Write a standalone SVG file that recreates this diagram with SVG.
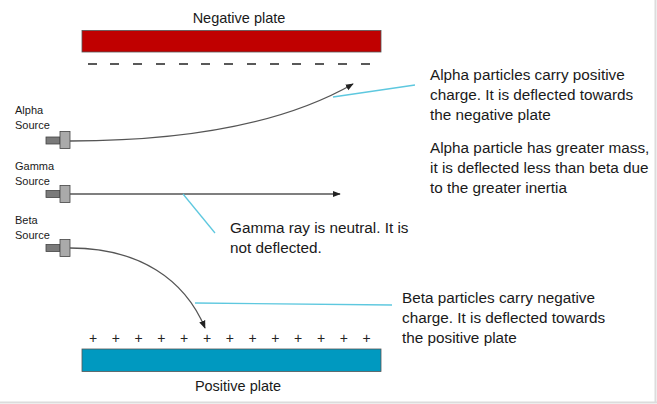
<svg xmlns="http://www.w3.org/2000/svg" width="657" height="404" viewBox="0 0 657 404">
<defs>
<style>
.t{font-family:"Liberation Sans",Arial,sans-serif;fill:#1a1a1a}
.body{font-size:15.3px}
.plate{font-size:14.5px}
.src{font-size:11px}
.ray{fill:none;stroke:#555;stroke-width:1.3}
.call{fill:none;stroke:#5ec8df;stroke-width:1.3}
.sign{font-family:"Liberation Sans",Arial,sans-serif;font-size:14px;fill:#222}
.dev1{fill:#7a7a7a;stroke:#444;stroke-width:0.8}
.dev2{fill:#aaaaaa;stroke:#444;stroke-width:0.8}
</style>
<marker id="ah" viewBox="0 0 10 10" refX="9" refY="5" markerWidth="8" markerHeight="8" markerUnits="userSpaceOnUse" orient="auto">
<path d="M0,1 L10,5 L0,9 z" fill="#222"/>
</marker>
</defs>
<rect width="657" height="404" fill="#fff"/>
<line x1="655.5" y1="0" x2="655.5" y2="403" stroke="#dcdcdc" stroke-width="2"/>
<line x1="0" y1="402.5" x2="657" y2="402.5" stroke="#dcdcdc" stroke-width="2"/>

<g id="negative-plate">
<rect x="82" y="30.5" width="299" height="21.5" fill="#c00000" stroke="#555" stroke-width="0.8"/>
<text class="t plate" x="239" y="23" text-anchor="middle">Negative plate</text>
<g stroke="#222" stroke-width="1.5">
<line x1="88" y1="64" x2="97" y2="64"/><line x1="110" y1="64" x2="119" y2="64"/><line x1="133" y1="64" x2="142" y2="64"/><line x1="156" y1="64" x2="165" y2="64"/><line x1="179" y1="64" x2="188" y2="64"/><line x1="201" y1="64" x2="210" y2="64"/><line x1="224" y1="64" x2="233" y2="64"/><line x1="247" y1="64" x2="256" y2="64"/><line x1="270" y1="64" x2="279" y2="64"/><line x1="292" y1="64" x2="301" y2="64"/><line x1="315" y1="64" x2="324" y2="64"/><line x1="338" y1="64" x2="347" y2="64"/><line x1="361" y1="64" x2="370" y2="64"/>
</g>
</g>

<g id="positive-plate">
<rect x="82" y="349" width="299" height="22.5" fill="#0099c0" stroke="#555" stroke-width="0.8"/>
<text class="t plate" x="238" y="391" text-anchor="middle">Positive plate</text>
<g class="sign" text-anchor="middle">
<text x="93" y="343">+</text><text x="115.8" y="343">+</text><text x="138.6" y="343">+</text><text x="161.4" y="343">+</text><text x="184.2" y="343">+</text><text x="207" y="343">+</text><text x="229.8" y="343">+</text><text x="252.6" y="343">+</text><text x="275.4" y="343">+</text><text x="298.2" y="343">+</text><text x="321" y="343">+</text><text x="343.8" y="343">+</text><text x="366.6" y="343">+</text>
</g>
</g>

<g id="alpha-source">
<text class="t src" x="15" y="114">Alpha</text>
<text class="t src" x="15" y="129">Source</text>
<rect class="dev1" x="46" y="137" width="14" height="7"/>
<rect class="dev2" x="60" y="131.5" width="10" height="17"/>
</g>
<g id="gamma-source">
<text class="t src" x="15" y="170">Gamma</text>
<text class="t src" x="15" y="185">Source</text>
<rect class="dev1" x="46" y="190.5" width="14" height="7"/>
<rect class="dev2" x="60" y="185.5" width="10" height="17"/>
</g>
<g id="beta-source">
<text class="t src" x="15" y="224">Beta</text>
<text class="t src" x="15" y="239">Source</text>
<rect class="dev1" x="46" y="244.5" width="14" height="7"/>
<rect class="dev2" x="60" y="239.5" width="10" height="17"/>
</g>

<g id="connectors">
<path class="ray" d="M70,141 C200,141 290,120 353,84" marker-end="url(#ah)"/>
<path class="ray" d="M70,194 L340,194" marker-end="url(#ah)"/>
<path class="ray" d="M70,248 C140,248 185,280 205,328" marker-end="url(#ah)"/>
<path class="call" d="M333,97 L415,85"/>
<path class="call" d="M183,194 L215,233"/>
<path class="call" d="M195,303 L392,305"/>
</g>

<g id="alpha-note">
<text class="t body" x="430" y="80">Alpha particles carry positive</text>
<text class="t body" x="430" y="100">charge. It is deflected towards</text>
<text class="t body" x="430" y="120">the negative plate</text>
</g>
<g id="alpha-mass-note">
<text class="t body" x="430" y="153">Alpha particle has greater mass,</text>
<text class="t body" x="430" y="173">it is deflected less than beta due</text>
<text class="t body" x="430" y="193">to the greater inertia</text>
</g>
<g id="gamma-note">
<text class="t body" x="230" y="233">Gamma ray is neutral. It is</text>
<text class="t body" x="230" y="253">not deflected.</text>
</g>
<g id="beta-note">
<text class="t body" x="402" y="303">Beta particles carry negative</text>
<text class="t body" x="402" y="323">charge. It is deflected towards</text>
<text class="t body" x="402" y="343">the positive plate</text>
</g>
</svg>
